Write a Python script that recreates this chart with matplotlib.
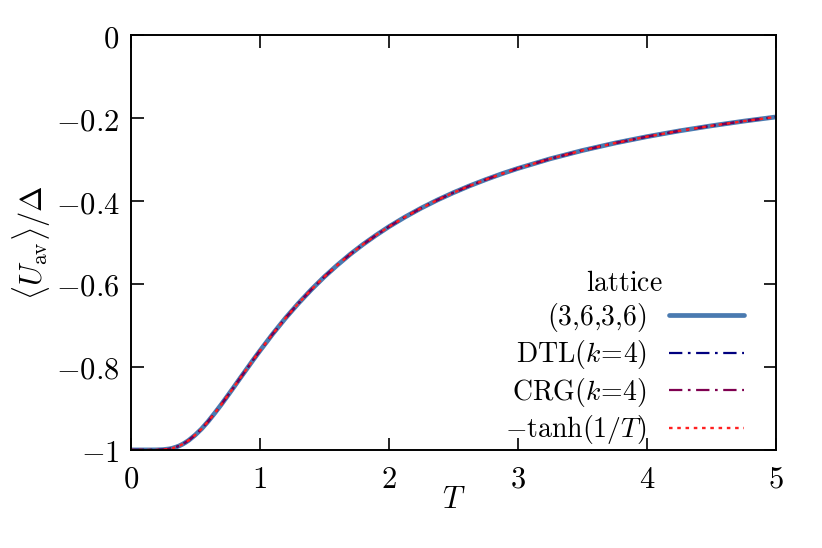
import matplotlib
matplotlib.use("Agg")
import matplotlib.pyplot as plt
from matplotlib.ticker import FuncFormatter

plt.rcParams["mathtext.fontset"] = "cm"
plt.rcParams["font.family"] = "serif"
plt.rcParams["font.serif"] = ["DejaVu Serif"]

# values (all four curves coincide)
T = [0.0, 0.1, 0.15, 0.2, 0.25, 0.3, 0.32, 0.35, 0.375, 0.4, 0.425, 0.45, 0.5,
     0.55, 0.6, 0.65, 0.7, 0.75, 0.8, 0.85, 0.9, 0.95, 1.0, 1.1, 1.2, 1.3,
     1.4, 1.5, 1.6, 1.7, 1.8, 1.9, 2.0, 2.125, 2.25, 2.375, 2.5, 2.625, 2.75,
     2.875, 3.0, 3.25, 3.5, 3.75, 4.0, 4.25, 4.5, 4.75, 5.0]
u_lattice = [-1.0, -1.0, -1.0, -0.9999, -0.9993, -0.9975, -0.9962, -0.9933,
             -0.9904, -0.9866, -0.9820, -0.9768, -0.9640, -0.9490, -0.9313,
             -0.9118, -0.8914, -0.8700, -0.8483, -0.8262, -0.8045, -0.7827,
             -0.7616, -0.7206, -0.6821, -0.6465, -0.6134, -0.5828, -0.5548,
             -0.5286, -0.5047, -0.4827, -0.4621, -0.4387, -0.4173, -0.3978,
             -0.3800, -0.3636, -0.3485, -0.3344, -0.3215, -0.2983, -0.2782,
             -0.2605, -0.2449, -0.2310, -0.2187, -0.2075, -0.1974]
u_dtl = list(u_lattice)
u_crg = list(u_lattice)
u_tanh = list(u_lattice)

x_ticks = [0, 1, 2, 3, 4, 5]
y_ticks = [-1, -0.8, -0.6, -0.4, -0.2, 0]

fig = plt.figure(figsize=(8.22, 5.48), dpi=100)
ax = fig.add_axes([0.159, 0.179, 0.785, 0.757])

ax.plot(T, u_lattice, color="#4a7ab0", lw=3.4, solid_capstyle="round",
        solid_joinstyle="round", label=r"$(3{,}6{,}3{,}6)$")
ax.plot(T, u_dtl, color="#00007f", lw=1.6, dashes=(6, 2.5, 1.2, 2.5),
        label=r"$\mathrm{DTL}(k\!=\!4)$")
ax.plot(T, u_crg, color="#7f0050", lw=1.6, dashes=(6, 2.5, 1.2, 2.5),
        label=r"$\mathrm{CRG}(k\!=\!4)$")
ax.plot(T, u_tanh, color="#ff2020", lw=1.7, dashes=(1.5, 2),
        label=r"${-}\tanh(1/T)$")

ax.set_xlim(0, 5)
ax.set_ylim(-1, 0)
ax.set_xticks(x_ticks)
ax.set_yticks(y_ticks)
fmt = FuncFormatter(lambda v, p: r"$%g$" % v if v != 0 else r"$0$")
ax.xaxis.set_major_formatter(fmt)
ax.yaxis.set_major_formatter(fmt)
ax.tick_params(direction="in", length=9, width=1.2, top=True, right=True,
               labelsize=22)
ax.tick_params(axis="x", pad=10)
ax.tick_params(axis="y", pad=8)
for s in ax.spines.values():
    s.set_linewidth(1.4)

ax.set_xlabel(r"$T$", fontsize=22, labelpad=-8)
ax.set_ylabel(r"$\langle U_{\rm av}\rangle/\Delta$", fontsize=22, labelpad=2)

leg = ax.legend(title=r"$\mathrm{lattice}$", loc="lower right",
                bbox_to_anchor=(0.985, -0.045), frameon=False, markerfirst=False,
                fontsize=20, title_fontsize=20, handlelength=2.7,
                handletextpad=0.8, labelspacing=0.16, borderpad=0.3)
for t in leg.get_texts():
    t.set_ha("right")

fig.savefig("out.png", dpi=100)
